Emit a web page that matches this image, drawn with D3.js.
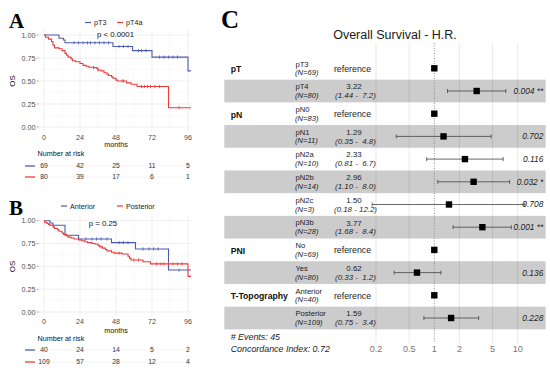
<!DOCTYPE html>
<html><head><meta charset="utf-8">
<script src="https://cdn.jsdelivr.net/npm/d3@7"></script>
<style>body{margin:0;background:#fff}svg{display:block;font-family:"Liberation Sans",Arial,sans-serif}</style>
</head><body><svg id="c" width="550" height="373"></svg>
<script>
// ---------- DATA ----------
const monthTicks = [0, 24, 48, 72, 96];
const monthMinor = [12, 36, 60, 84];
const survTicks = [0, 0.25, 0.5, 0.75, 1];
const survMinor = [0.125, 0.375, 0.625, 0.875];

// Panel A : pT3 vs pT4a
const aBlueT = [0, 10, 13, 14, 46, 59, 72, 96];
const aBlueS = [1, 0.965, 0.945, 0.915, 0.875, 0.83, 0.76, 0.61];
const aBlueCens = [20, 23, 26, 29, 31, 34, 37, 40, 43, 50, 53, 56, 63, 65, 68, 77, 80, 83, 86, 89];
const aRedT = [0, 1, 3, 5, 6, 7, 10, 12, 14, 15, 16, 18, 19, 21, 24, 26, 28, 30, 33, 35, 36, 38, 40, 42, 43, 45, 46, 48, 49, 55, 58, 62, 83];
const aRedS = [1, 0.975, 0.955, 0.93, 0.89, 0.86, 0.85, 0.83, 0.80, 0.78, 0.76, 0.74, 0.72, 0.71, 0.69, 0.67, 0.66, 0.65, 0.645, 0.64, 0.62, 0.61, 0.59, 0.575, 0.56, 0.545, 0.53, 0.51, 0.50, 0.48, 0.465, 0.44, 0.21];
const aRedCens = [33, 36, 52, 53, 65, 67, 69, 71, 74, 77, 90];
const aRiskBlue = [69, 42, 25, 11, 5];
const aRiskRed = [80, 39, 17, 6, 1];
const aLegend = ["pT3", "pT4a"];
const aPval = "p < 0.0001";

// Panel B : Anterior vs Posterior
const bBlueT = [0, 4, 6, 14, 23, 45, 61, 83];
const bBlueS = [1, 0.975, 0.95, 0.84, 0.80, 0.76, 0.69, 0.46];
const bBlueCens = [28, 32, 35, 38, 42, 50, 53, 56, 66, 70, 73, 76, 90];
const bRedT = [0, 0.5, 2, 3, 4, 6, 7, 9, 10, 12, 13, 15, 16, 18, 20, 23, 25, 27, 29, 32, 34, 36, 37, 39, 41, 42, 45, 47, 52, 56, 57, 58, 66, 71, 96];
const bRedS = [1, 0.98, 0.97, 0.96, 0.95, 0.93, 0.915, 0.90, 0.885, 0.865, 0.85, 0.835, 0.82, 0.81, 0.80, 0.79, 0.78, 0.77, 0.76, 0.75, 0.745, 0.73, 0.715, 0.70, 0.685, 0.67, 0.655, 0.645, 0.635, 0.61, 0.59, 0.57, 0.55, 0.527, 0.39];
const bRedCens = [38, 50, 60, 63, 75, 78, 80, 83, 86, 89, 92];
const bRiskBlue = [40, 24, 14, 5, 2];
const bRiskRed = [109, 57, 28, 12, 4];
const bLegend = ["Anterior", "Posterior"];
const bPval = "p = 0.25";

// Panel C : forest plot
const fVar = ["pT", "", "pN", "", "", "", "", "", "PNI", "", "T-Topography", ""];
const fLevel = ["pT3", "pT4", "pN0", "pN1", "pN2a", "pN2b", "pN2c", "pN3b", "No", "Yes", "Anterior", "Posterior"];
const fN = [69, 80, 83, 11, 10, 14, 3, 28, 69, 80, 40, 109];
const fHR = [1, 3.22, 1, 1.29, 2.33, 2.96, 1.50, 3.77, 1, 0.62, 1, 1.59];
const fLo = [null, 1.44, null, 0.35, 0.81, 1.10, 0.18, 1.68, null, 0.33, null, 0.75];
const fHi = [null, 7.2, null, 4.8, 6.7, 8.0, 12.2, 8.4, null, 1.2, null, 3.4];
const fHRtxt = ["reference", "3.22", "reference", "1.29", "2.33", "2.96", "1.50", "3.77", "reference", "0.62", "reference", "1.59"];
const fCItxt = ["", "(1.44 -  7.2)", "", "(0.35 -  4.8)", "(0.81 -  6.7)", "(1.10 -  8.0)", "(0.18 - 12.2)", "(1.68 -  8.4)", "", "(0.33 -  1.2)", "", "(0.75 -  3.4)"];
const fP = ["", "0.004 **", "", "0.702", "0.116", "0.032 *", "0.708", "0.001 **", "", "0.136", "", "0.228"];
const fTicks = [0.2, 0.5, 1, 2, 5, 10];
const fTitle = "Overall Survival - H.R.";
const fFoot = ["# Events: 45", "Concordance Index: 0.72"];

// ---------- DRAW ----------
const svg = d3.select("#c");
const BLUE = "#4B5CB4", RED = "#EE3B3B", GRID = "#EBEBEB", GRIDM = "#F6F6F6", TXT = "#4D4D4D";

function drawKM(cfg) {
  const g = svg.append("g");
  const x = d3.scaleLinear().domain([0, 96]).range([44, 188]);
  const y = d3.scaleLinear().domain([0, 1]).range([cfg.y0, cfg.y1]);
  const xL = 39, xR = 191, yT = cfg.y1 - 5, yB = cfg.y0 + 5;
  monthMinor.forEach(m => g.append("line").attr("x1", x(m)).attr("x2", x(m)).attr("y1", yT).attr("y2", yB).attr("stroke", GRIDM).attr("stroke-width", 0.6));
  survMinor.forEach(s => g.append("line").attr("x1", xL).attr("x2", xR).attr("y1", y(s)).attr("y2", y(s)).attr("stroke", GRIDM).attr("stroke-width", 0.6));
  monthTicks.forEach(m => g.append("line").attr("x1", x(m)).attr("x2", x(m)).attr("y1", yT).attr("y2", yB).attr("stroke", GRID).attr("stroke-width", 0.8));
  survTicks.forEach(s => g.append("line").attr("x1", xL).attr("x2", xR).attr("y1", y(s)).attr("y2", y(s)).attr("stroke", GRID).attr("stroke-width", 0.8));
  survTicks.forEach(s => {
    g.append("text").attr("x", 35.5).attr("y", y(s)).attr("dy", "0.35em").attr("text-anchor", "end")
      .attr("font-size", 7.2).attr("fill", TXT).text(s.toFixed(2));
    g.append("line").attr("x1", 36.5).attr("x2", 39).attr("y1", y(s)).attr("y2", y(s)).attr("stroke", "#888").attr("stroke-width", 0.6);
  });
  g.append("text").attr("transform", `translate(12,${y(0.5)}) rotate(-90)`).attr("text-anchor", "middle")
    .attr("dy", "0.35em").attr("font-size", 8).attr("fill", "#111").text("OS");
  monthTicks.forEach(m => g.append("text").attr("x", x(m)).attr("y", cfg.xlabY).attr("dy", "0.35em")
    .attr("text-anchor", "middle").attr("font-size", 7.2).attr("fill", TXT).text(m));
  g.append("text").attr("x", 116).attr("y", cfg.monthsY).attr("dy", "0.35em").attr("text-anchor", "middle")
    .attr("font-size", 7.2).attr("fill", "#111").text("months");
  const line = d3.line().x(d => x(d[0])).y(d => y(d[1])).curve(d3.curveStepAfter);
  const series = [[cfg.blueT, cfg.blueS, cfg.blueC, BLUE], [cfg.redT, cfg.redS, cfg.redC, RED]];
  series.forEach(([T, S, C, col]) => {
    const pts = T.map((t, i) => [t, S[i]]);
    pts.push([98, S[S.length - 1]]);
    g.append("path").attr("d", line(pts)).attr("fill", "none").attr("stroke", col).attr("stroke-width", 1.1);
    const sAt = t => { let v = S[0]; T.forEach((tt, i) => { if (tt <= t) v = S[i]; }); return v; };
    C.forEach(t => g.append("line").attr("x1", x(t)).attr("x2", x(t)).attr("y1", y(sAt(t)) - 1.6).attr("y2", y(sAt(t)) + 1.6)
      .attr("stroke", col).attr("stroke-width", 0.8));
  });
  cfg.legend.forEach((lab, i) => {
    const lx = cfg.legX[i], col = i === 0 ? BLUE : RED;
    g.append("line").attr("x1", lx).attr("x2", lx + 6).attr("y1", cfg.legY).attr("y2", cfg.legY).attr("stroke", col).attr("stroke-width", 1.2);
    g.append("text").attr("x", lx + 9).attr("y", cfg.legY).attr("dy", "0.35em").attr("font-size", 7.2).attr("fill", "#222").text(lab);
  });
  g.append("text").attr("x", cfg.pX).attr("y", cfg.pY).attr("dy", "0.35em").attr("text-anchor", "middle")
    .attr("font-size", 7.8).attr("fill", "#111").text(cfg.pval);
  g.append("text").attr("x", 9).attr("y", cfg.letY).attr("font-family", "'Liberation Serif','Times New Roman',serif")
    .attr("font-weight", "bold").attr("font-size", 21).attr("fill", "#000").text(cfg.letter);
  g.append("text").attr("x", 37.5).attr("y", cfg.narY).attr("dy", "0.35em").attr("font-size", 7.2).attr("fill", "#111").text("Number at risk");
  cfg.rowY.forEach(ry => g.append("line").attr("x1", xL).attr("x2", xR).attr("y1", ry).attr("y2", ry).attr("stroke", GRID).attr("stroke-width", 0.6));
  monthTicks.forEach(m => g.append("line").attr("x1", x(m)).attr("x2", x(m)).attr("y1", cfg.rowY[0] - 5).attr("y2", cfg.rowY[1] + 5).attr("stroke", GRID).attr("stroke-width", 0.6));
  [[cfg.riskBlue, BLUE], [cfg.riskRed, RED]].forEach(([vals, col], r) => {
    const ry = cfg.rowY[r];
    g.append("line").attr("x1", 25).attr("x2", 35).attr("y1", ry).attr("y2", ry).attr("stroke", col).attr("stroke-width", 1.3);
    vals.forEach((v, i) => g.append("text").attr("x", x(monthTicks[i])).attr("y", ry).attr("dy", "0.35em").attr("text-anchor", "middle")
      .attr("font-size", 6.8).attr("fill", "#333").text(v));
  });
}

drawKM({ y0: 127, y1: 35, xlabY: 137, monthsY: 144.5, narY: 153, rowY: [166, 177],
  blueT: aBlueT, blueS: aBlueS, blueC: aBlueCens, redT: aRedT, redS: aRedS, redC: aRedCens,
  riskBlue: aRiskBlue, riskRed: aRiskRed, legend: aLegend, legX: [85, 117], legY: 22.5,
  pval: aPval, pX: 115.5, pY: 34, letter: "A", letY: 28 });
drawKM({ y0: 312, y1: 220.7, xlabY: 321, monthsY: 330, narY: 338.5, rowY: [350, 362],
  blueT: bBlueT, blueS: bBlueS, blueC: bBlueCens, redT: bRedT, redS: bRedS, redC: bRedCens,
  riskBlue: bRiskBlue, riskRed: bRiskRed, legend: bLegend, legX: [61, 117], legY: 206,
  pval: bPval, pX: 103, pY: 223, letter: "B", letY: 215 });

// ---------- FOREST ----------
(function () {
  const g = svg.append("g");
  const x = d3.scaleLog().domain([1, 10]).range([434.3, 517.7]);
  const rowH = 22.7, y0 = 68.3;
  const cy = i => y0 + i * rowH;
  const gTop = 43, gBot = 343;
  const FS = 7.6, OFF = 4.4;
  fTicks.filter(t => t !== 1).forEach(t => g.append("line").attr("x1", x(t)).attr("x2", x(t)).attr("y1", gTop).attr("y2", gBot)
    .attr("stroke", "#E6E6E6").attr("stroke-width", 0.9));
  fLevel.forEach((l, i) => { if (i % 2 === 1) g.append("rect").attr("x", 224.3).attr("y", cy(i) - rowH / 2).attr("width", 321.4)
    .attr("height", rowH).attr("fill", "#000").attr("fill-opacity", 0.2); });
  g.append("line").attr("x1", x(1)).attr("x2", x(1)).attr("y1", gTop).attr("y2", gBot).attr("stroke", "#777")
    .attr("stroke-width", 0.8).attr("stroke-dasharray", "1,1.5");
  g.append("text").attr("x", 395).attr("y", 35).attr("dy", "0.35em").attr("text-anchor", "middle").attr("font-size", 12.5)
    .attr("fill", "#1a1a1a").text(fTitle);
  g.append("text").attr("x", 221).attr("y", 28).attr("font-family", "'Liberation Serif','Times New Roman',serif")
    .attr("font-weight", "bold").attr("font-size", 25).attr("fill", "#000").text("C");
  fLevel.forEach((lev, i) => {
    const c = cy(i);
    if (fVar[i]) g.append("text").attr("x", 230.7).attr("y", c + 1).attr("dy", "0.35em").attr("font-weight", "bold")
      .attr("font-size", 8.7).attr("fill", "#111").text(fVar[i]);
    g.append("text").attr("x", 295.5).attr("y", c - OFF).attr("dy", "0.35em").attr("font-size", FS).attr("fill", "#222").text(lev);
    g.append("text").attr("x", 295).attr("y", c + OFF).attr("dy", "0.35em").attr("font-size", FS).attr("font-style", "italic")
      .attr("fill", "#222").text(`(N=${fN[i]})`);
    if (fLo[i] === null) {
      g.append("text").attr("x", 352.5).attr("y", c + 0.5).attr("dy", "0.35em").attr("text-anchor", "middle").attr("font-size", 8.8)
        .attr("fill", "#222").text(fHRtxt[i]);
    } else {
      g.append("text").attr("x", 354).attr("y", c - OFF).attr("dy", "0.35em").attr("text-anchor", "middle").attr("font-size", FS + 0.3)
        .attr("fill", "#222").text(fHRtxt[i]);
      g.append("text").attr("x", 355.5).attr("y", c + OFF).attr("dy", "0.35em").attr("text-anchor", "middle").attr("font-size", FS + 0.3)
        .attr("font-style", "italic").attr("fill", "#222").style("white-space", "pre").text(fCItxt[i]);
      g.append("line").attr("x1", x(fLo[i])).attr("x2", x(fHi[i])).attr("y1", c).attr("y2", c).attr("stroke", "#444").attr("stroke-width", 0.8);
      [fLo[i], fHi[i]].forEach(v => g.append("line").attr("x1", x(v)).attr("x2", x(v)).attr("y1", c - 2).attr("y2", c + 2)
        .attr("stroke", "#444").attr("stroke-width", 0.8));
    }
    g.append("rect").attr("x", x(fHR[i]) - 3.2).attr("y", c - 3.2).attr("width", 6.4).attr("height", 6.4).attr("fill", "#000");
    if (fP[i]) g.append("text").attr("x", 543.3).attr("y", c).attr("dy", "0.35em").attr("text-anchor", "end").attr("font-size", 8.4)
      .attr("font-style", "italic").attr("fill", "#222").text(fP[i]);
  });
  fTicks.forEach(t => g.append("text").attr("x", x(t)).attr("y", 349.3).attr("dy", "0.35em").attr("text-anchor", "middle")
    .attr("font-size", 9).attr("fill", "#777").text(t));
  fFoot.forEach((s, i) => g.append("text").attr("x", 230.7).attr("y", 336.7 + i * 12.6).attr("dy", "0.35em")
    .attr("font-size", 8.9).attr("font-style", "italic").attr("fill", "#222").text(s));
})();
</script></body></html>
